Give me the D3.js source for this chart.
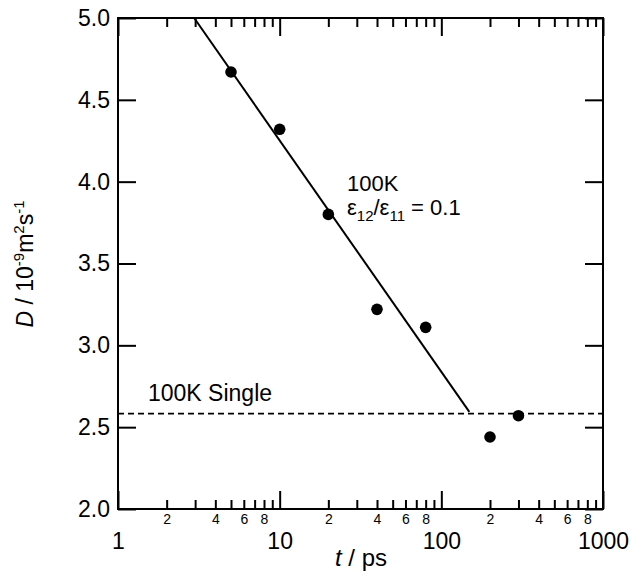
<!DOCTYPE html>
<html><head><meta charset="utf-8">
<script src="https://cdn.jsdelivr.net/npm/d3@7"></script>
<style>body{margin:0;background:#fff}svg{display:block}text{font-family:"Liberation Sans",Arial,Helvetica,sans-serif;fill:#000}</style>
</head><body>
<script>
// Data
const times = [5, 10, 20, 40, 80, 200, 300];
const diffusion = [4.67, 4.32, 3.80, 3.22, 3.11, 2.44, 2.57];
const fitT = [2.96, 149];
const fitD = [5.0, 2.593];
const singleD = 2.583;
const yTicks = [2.0, 2.5, 3.0, 3.5, 4.0, 4.5, 5.0];
const xMajor = [1, 10, 100, 1000];
const xMinor = [2,3,4,5,6,7,8,9,20,30,40,50,60,70,80,90,200,300,400,500,600,700,800,900];
const minorLabelDigits = [2, 4, 6, 8];

const W = 631, H = 584;
const L = 118, R = 603, T = 18, B = 509;
const svg = d3.select("body").append("svg").attr("width", W).attr("height", H);
const x = d3.scaleLog().domain([1, 1000]).range([L, R]);
const y = d3.scaleLinear().domain([2, 5]).range([B, T]);

function styleAxis(g){ g.select(".domain").remove(); g.selectAll("line").attr("stroke","#000").attr("stroke-width",2); }

// bottom major
svg.append("g").attr("transform",`translate(0,${B})`)
  .call(d3.axisBottom(x).tickValues(xMajor).tickSize(-18).tickFormat(d3.format("d")))
  .call(styleAxis)
  .call(g=>g.selectAll("text").attr("y",40).attr("dy",0).attr("font-size",23));
// bottom minor
svg.append("g").attr("transform",`translate(0,${B})`)
  .call(d3.axisBottom(x).tickValues(xMinor).tickSize(-9)
    .tickFormat(d=>{const m=Math.round(d/Math.pow(10,Math.floor(Math.log10(d)+1e-9)));return minorLabelDigits.includes(m)?String(m):"";}))
  .call(styleAxis)
  .call(g=>g.selectAll("text").attr("y",15).attr("dy",0).attr("font-size",14));
// top
svg.append("g").attr("transform",`translate(0,${T})`)
  .call(d3.axisTop(x).tickValues(xMajor).tickSize(-18).tickFormat(""))
  .call(styleAxis);
svg.append("g").attr("transform",`translate(0,${T})`)
  .call(d3.axisTop(x).tickValues(xMinor).tickSize(-9).tickFormat(""))
  .call(styleAxis);
// left
svg.append("g").attr("transform",`translate(${L},0)`)
  .call(d3.axisLeft(y).tickValues(yTicks).tickSize(-18).tickPadding(8).tickFormat(d3.format(".1f")))
  .call(styleAxis)
  .call(g=>g.selectAll("text").attr("font-size",23));
// right
svg.append("g").attr("transform",`translate(${R},0)`)
  .call(d3.axisRight(y).tickValues(yTicks).tickSize(-18).tickFormat(""))
  .call(styleAxis);

// frame
svg.append("rect").attr("x",L).attr("y",T).attr("width",R-L).attr("height",B-T)
  .attr("fill","none").attr("stroke","#000").attr("stroke-width",2);

// dashed single line
svg.append("line").attr("x1",L).attr("x2",R).attr("y1",y(singleD)).attr("y2",y(singleD))
  .attr("stroke","#000").attr("stroke-width",1.6).attr("stroke-dasharray","6,4");

// fit line
const fitPts = fitT.map((t,i)=>[t, fitD[i]]);
svg.append("path").attr("d", d3.line().x(d=>x(d[0])).y(d=>y(d[1]))(fitPts))
  .attr("fill","none").attr("stroke","#000").attr("stroke-width",2);

// points
svg.append("g").selectAll("circle").data(times.map((t,i)=>[t,diffusion[i]])).join("circle")
  .attr("cx",d=>x(d[0])).attr("cy",d=>y(d[1])).attr("r",5.8).attr("fill","#000");

// annotations
svg.append("text").attr("x",347).attr("y",191).attr("font-size",22).text("100K");
const eq = svg.append("text").attr("x",347).attr("y",215).attr("font-size",22);
eq.append("tspan").text("ε");
eq.append("tspan").attr("font-size",15).attr("dy",6).text("12");
eq.append("tspan").attr("dy",-6).text("/ε");
eq.append("tspan").attr("font-size",15).attr("dy",6).text("11");
eq.append("tspan").attr("dy",-6).text(" = 0.1");

svg.append("text").attr("x",148).attr("y",401).attr("font-size",23).text("100K Single");

// axis titles
const xt = svg.append("text").attr("x",361).attr("y",566).attr("text-anchor","middle").attr("font-size",24);
xt.append("tspan").attr("font-style","italic").text("t");
xt.append("tspan").text(" / ps");

const yt = svg.append("text").attr("transform","translate(33,264) rotate(-90)").attr("text-anchor","middle").attr("font-size",23);
yt.append("tspan").attr("font-style","italic").text("D");
yt.append("tspan").text(" / 10");
yt.append("tspan").attr("font-size",15).attr("dy",-9).text("-9");
yt.append("tspan").attr("dy",9).text("m");
yt.append("tspan").attr("font-size",15).attr("dy",-9).text("2");
yt.append("tspan").attr("dy",9).text("s");
yt.append("tspan").attr("font-size",15).attr("dy",-9).text("-1");
</script>
</body></html>
